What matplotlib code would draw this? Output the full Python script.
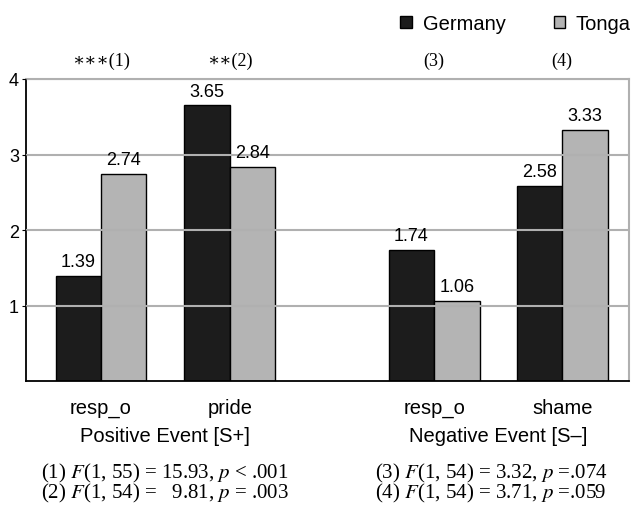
import numpy as np
import matplotlib.pyplot as plt
from matplotlib.patches import Patch
from matplotlib.transforms import blended_transform_factory

plt.rcParams['font.family'] = ['Liberation Sans', 'DejaVu Sans']
plt.rcParams['mathtext.fontset'] = 'stix'

# data
categories = ['resp_o', 'pride', 'resp_o', 'shame']
groups = ['Positive Event [S+]', 'Negative Event [S\u2013]']
germany = [1.39, 3.65, 1.74, 2.58]
tonga = [2.74, 2.84, 1.06, 3.33]
series_names = ['Germany', 'Tonga']
sig_marks = ['\u2217\u2217\u2217', '\u2217\u2217', '', '']
sig_refs = ['(1)', '(2)', '(3)', '(4)']
footnotes_left = ['(1) $F$(1, 55) = 15.93, $p$ < .001',
                  '(2) $F$(1, 54) =   9.81, $p$ = .003']
footnotes_right = ['(3) $F$(1, 54) = 3.32, $p$ =.074',
                   '(4) $F$(1, 54) = 3.71, $p$ =.059']

dark = '#1c1c1c'
light = '#b4b4b4'
gridc = '#b0b0b0'
serif = ['Liberation Serif', 'DejaVu Serif']

# layout (bar width = 1 unit)
centers = np.array([1.65, 4.49, 8.99, 11.81])
w = 1.0

fig = plt.figure(figsize=(6.31, 5.06), dpi=100)
ax = fig.add_axes([26/631, (506-382)/506, 603/631, 302/506])

ax.bar(centers - w/2, germany, w, color=dark, edgecolor='black', linewidth=1.0, zorder=1)
ax.bar(centers + w/2, tonga, w, color=light, edgecolor='black', linewidth=1.0, zorder=1)

for x, v in zip(centers - w/2, germany):
    ax.annotate('%.2f' % v, (x, v), xytext=(0, 7), textcoords='offset points',
                ha='center', va='baseline', fontsize=13)
for x, v in zip(centers + w/2, tonga):
    ax.annotate('%.2f' % v, (x, v), xytext=(0, 7), textcoords='offset points',
                ha='center', va='baseline', fontsize=13)

ax.set_xlim(0, 603/45.4)
ax.set_ylim(0, 4)
ax.set_yticks([1, 2, 3, 4])
ax.set_yticklabels(['1', '2', '3', '4'], fontsize=13)
ax.tick_params(axis='y', length=3, color='black', pad=2)
ax.set_xticks(centers)
ax.set_xticklabels(categories, fontsize=14.5)
ax.tick_params(axis='x', length=0, pad=12)

ax.grid(axis='y', color=gridc, linewidth=1.5)
ax.set_axisbelow(False)
for s in ['left', 'bottom']:
    ax.spines[s].set_color('black')
    ax.spines[s].set_linewidth(1.3)
for s in ['top', 'right']:
    ax.spines[s].set_color(gridc)
    ax.spines[s].set_linewidth(1.5)

trans = blended_transform_factory(ax.transData, ax.transAxes)
ax.text((centers[0] + centers[1]) / 2, -0.18, groups[0], transform=trans,
        ha='center', va='center', fontsize=14.5)
ax.text((centers[2] + centers[3]) / 2, -0.18, groups[1], transform=trans,
        ha='center', va='center', fontsize=14.5)

# significance marks above the groups
for x, m, r in zip(centers, sig_marks, sig_refs):
    ax.text(x, 1.063, m + r, transform=trans, ha='center', va='center',
            fontsize=13, family=serif)

# footnotes
fig.text(41/631, 1 - 483.5/506, '\n'.join(footnotes_left), fontsize=15, va='center',
         linespacing=0.78, family=serif)
fig.text(375/631, 1 - 483.5/506, '\n'.join(footnotes_right), fontsize=15, va='center',
         linespacing=0.78, family=serif)

handles = [Patch(facecolor=dark, edgecolor='black', linewidth=1.0),
           Patch(facecolor=light, edgecolor='black', linewidth=1.0)]
fig.legend(handles, series_names, loc='center right', bbox_to_anchor=(1.0, 1 - 25/506),
           ncol=2, frameon=False, fontsize=14.5, handlelength=0.55, handleheight=0.55,
           handletextpad=0.55, columnspacing=2.4, borderaxespad=0, borderpad=0)

plt.savefig('out.png', dpi=100)
